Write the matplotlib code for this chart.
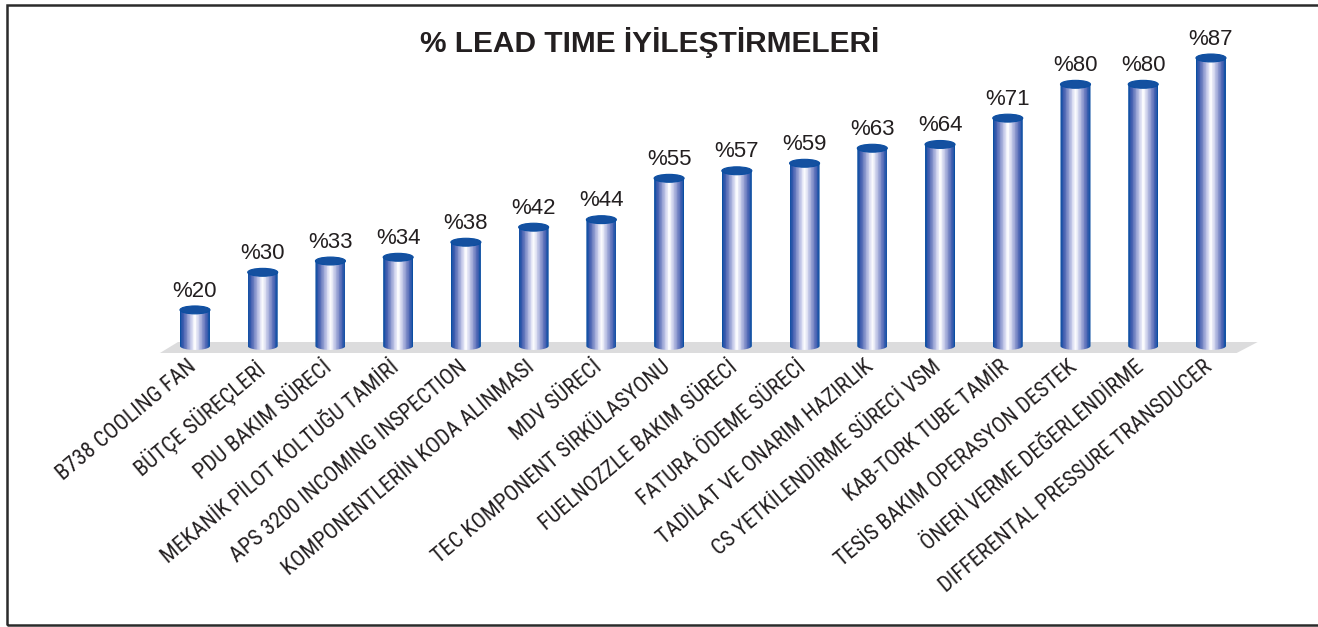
import numpy as np
import matplotlib.pyplot as plt
from matplotlib.colors import LinearSegmentedColormap
from matplotlib.patches import Ellipse, Polygon, Rectangle
from matplotlib import font_manager

# veriler
kategoriler = ["B738 COOLING FAN", "BÜTÇE SÜREÇLERİ", "PDU BAKIM SÜRECİ",
               "MEKANİK PİLOT KOLTUĞU TAMİRİ", "APS 3200 INCOMING INSPECTION",
               "KOMPONENTLERİN KODA ALINMASI", "MDV SÜRECİ",
               "TEC KOMPONENT SİRKÜLASYONU", "FUELNOZZLE BAKIM SÜRECİ",
               "FATURA ÖDEME SÜRECİ", "TADİLAT VE ONARIM HAZIRLIK",
               "CS YETKİLENDİRME SÜRECİ VSM", "KAB-TORK TUBE TAMİR",
               "TESİS BAKIM OPERASYON DESTEK", "ÖNERİ VERME DEĞERLENDİRME",
               "DIFFERENTAL PRESSURE TRANSDUCER"]
degerler = [20, 30, 33, 34, 38, 42, 44, 55, 57, 59, 63, 64, 71, 80, 80, 87]
etiketler = [f"%{v}" for v in degerler]

baslik = "% LEAD TIME İYİLEŞTİRMELERİ"

taban = 10.4      # silindirlerin oturdugu seviye
genislik = 0.443
elips_h = 2.1

renkler = ["#0b4ea2", "#3f5cae", "#6f80c0", "#a3acd9", "#d4d7ef", "#ffffff",
           "#d8dbf0", "#aab2dc", "#7a88c5", "#4862b2", "#0b4ea2"]
cmap = LinearSegmentedColormap.from_list("silindir", renkler)

# dar font varsa onu kullan
adlar = [f.name for f in font_manager.fontManager.ttflist]
dar = [a for a in ["Liberation Sans Narrow", "Roboto Condensed", "Open Sans Condensed",
                   "DejaVu Sans Condensed"] if a in adlar]
dar_var = any("Condensed" in f.fname or "Narrow" in f.fname
              for f in font_manager.fontManager.ttflist if f.name == "DejaVu Sans")

fig = plt.figure(figsize=(13.18, 6.27), dpi=100)
ax = fig.add_axes([0.1171, 0.3858, 0.8428, 0.5997])
ax.set_xlim(-0.6, 15.8)
ax.set_ylim(0, 100)
ax.axis("off")

# zemin
zemin = Polygon([(-0.517, 8.54), (-0.251, 11.46), (15.69, 11.46), (15.38, 8.54)],
                closed=True, facecolor="#dcdcdd", edgecolor="none", zorder=1)
ax.add_patch(zemin)

x = np.arange(len(degerler))
nserit = 40
for i, v in enumerate(degerler):
    # govde sekli: dikdortgen + alt yarim elips
    t = np.linspace(np.pi, 2 * np.pi, 40)
    xs = list(x[i] + genislik / 2 * np.cos(t)) + [x[i] + genislik / 2, x[i] - genislik / 2]
    ys = list(taban + elips_h / 2 * np.sin(t)) + [v, v]
    sekil = Polygon(np.column_stack([xs, ys]), closed=True, facecolor="none",
                    edgecolor="none")
    ax.add_patch(sekil)
    kenarlar = np.linspace(x[i] - genislik / 2, x[i] + genislik / 2, nserit + 1)
    cubuklar = ax.bar(kenarlar[:-1], v - taban + elips_h / 2, width=genislik / nserit,
                      bottom=taban - elips_h / 2, align="edge",
                      color=cmap(np.linspace(0, 1, nserit)), edgecolor="none", zorder=3)
    for c in cubuklar:
        c.set_clip_path(sekil)
    # ust kapak
    ax.add_patch(Ellipse((x[i], v), genislik, elips_h, facecolor="#1450a0",
                         edgecolor="#0b4ea2", linewidth=0.8, zorder=4))
    ax.text(x[i], v + 5.0, etiketler[i], ha="center", va="center",
            fontsize=16, color="#231f20", family=["Liberation Sans", "DejaVu Sans"])

if dar:
    etiket_font = dict(family=[dar[0], "DejaVu Sans"], fontsize=16)
elif dar_var:
    etiket_font = dict(family=["DejaVu Sans"], fontstretch="condensed", fontsize=15)
else:
    etiket_font = dict(family=["Liberation Sans", "DejaVu Sans"], fontsize=14.4)

for i, k in enumerate(kategoriler):
    ax.text(x[i] - 0.12, 7.6, k, rotation=40, rotation_mode="anchor",
            ha="right", va="top", color="#231f20", **etiket_font)

fig.text(0.493, 0.933, baslik, ha="center", va="center", fontsize=21.5,
         fontweight="bold", color="#231f20", family=["Liberation Sans", "DejaVu Sans"])

# cerceve
cerceve = Rectangle((7 / 1318, 2 / 627), 1.2, 620 / 627, transform=fig.transFigure,
                    fill=False, edgecolor="#2b2b2b", linewidth=1.8)
fig.patches.append(cerceve)

fig.savefig("out.png", dpi=100, facecolor="white")
